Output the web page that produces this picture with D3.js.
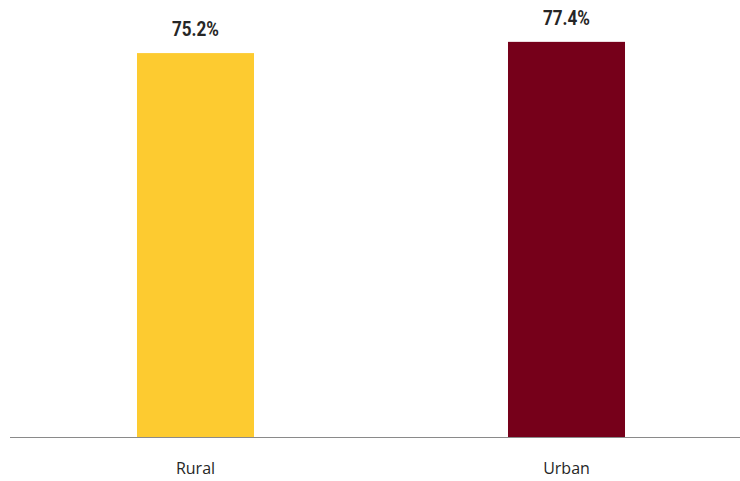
<!DOCTYPE html>
<html><head><meta charset="utf-8">
<script src="https://cdn.jsdelivr.net/npm/d3@7"></script>
<style>body{margin:0;background:#fff}svg{display:block}</style>
</head><body>
<script>
const categories = ["Rural", "Urban"];
const values = [75.2, 77.4];
const colors = ["#FDCB30", "#76001A"];
const labels = ["75.2%", "77.4%"];

const W = 740, H = 481;
const svg = d3.select("body").append("svg").attr("width", W).attr("height", H);
const x = d3.scaleBand().domain(categories).range([10, 752]).paddingInner(0.6846).paddingOuter(0.3423);
const y = d3.scaleLinear().domain([0, 85.6]).range([437, 0]);

svg.selectAll("rect.bar").data(categories).enter().append("rect")
  .attr("x", d => x(d)).attr("width", x.bandwidth())
  .attr("y", (d, i) => y(values[i])).attr("height", (d, i) => y(0) - y(values[i]))
  .attr("fill", (d, i) => colors[i]);

svg.append("line").attr("x1", 10).attr("x2", W).attr("y1", 437.5).attr("y2", 437.5)
  .attr("stroke", "#8a8a8a").attr("stroke-width", 1);

svg.selectAll("text.val").data(categories).enter().append("text")
  .attr("transform", (d, i) => `translate(${x(d) + x.bandwidth() / 2},${y(values[i]) - 17}) scale(0.9,1.08)`)
  .attr("text-anchor", "middle").attr("font-family", "Roboto, 'Open Sans', sans-serif")
  .attr("font-weight", "bold").attr("font-size", 19).attr("fill", "#262626")
  .text((d, i) => labels[i]);

svg.selectAll("text.cat").data(categories).enter().append("text")
  .attr("x", d => x(d) + x.bandwidth() / 2).attr("y", 474)
  .attr("text-anchor", "middle").attr("font-family", "'Open Sans', sans-serif")
  .attr("font-size", 16).attr("fill", "#262626")
  .text(d => d);
</script>
</body></html>
